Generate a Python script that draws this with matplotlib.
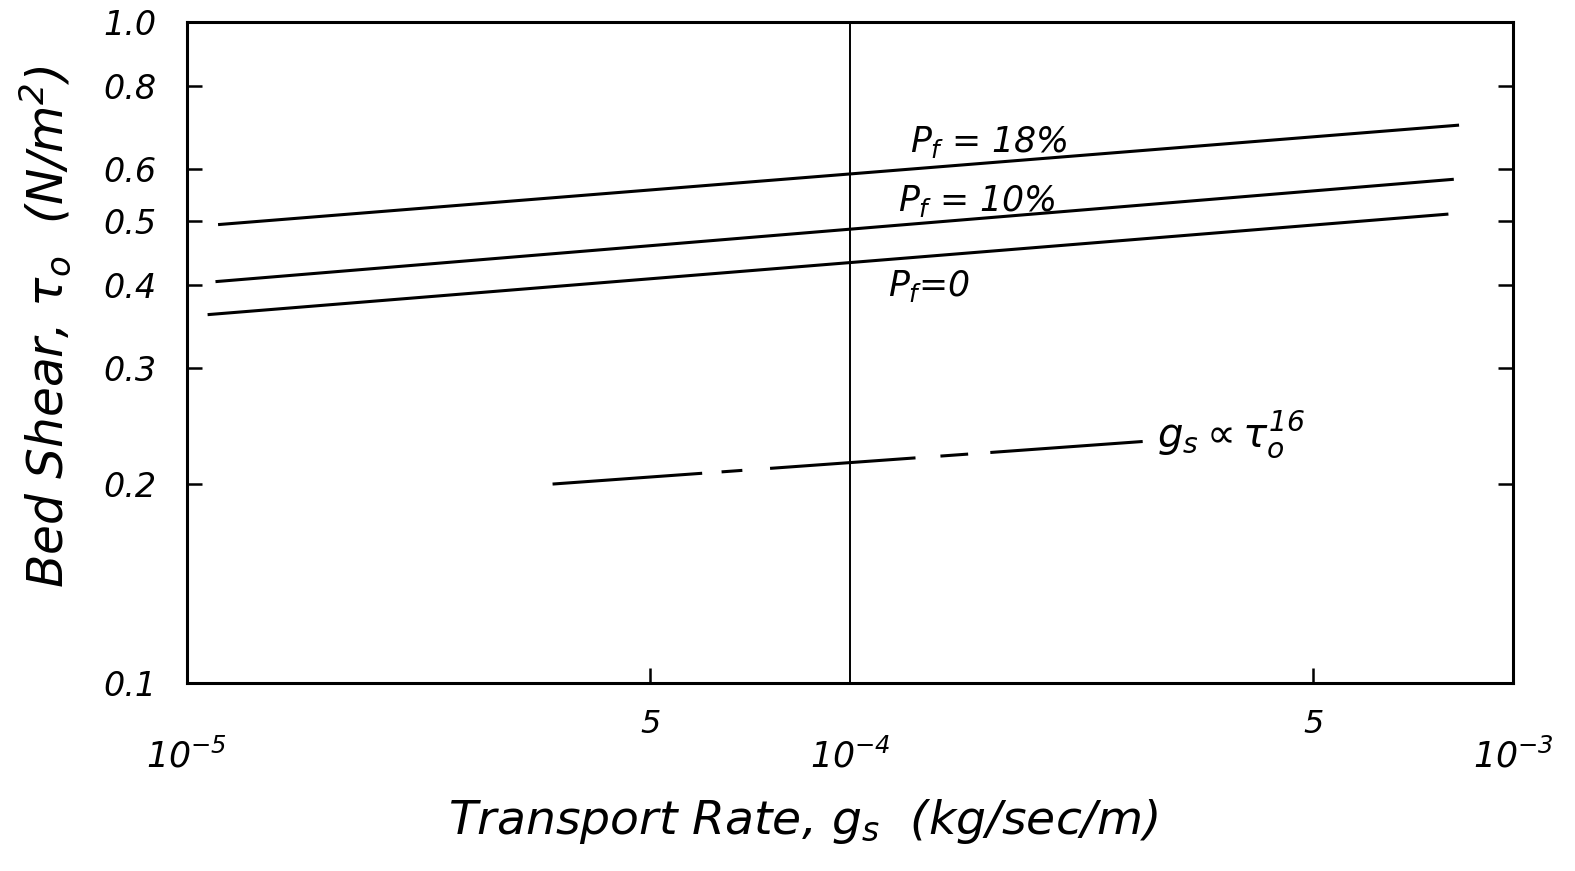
import numpy as np
import matplotlib
matplotlib.use("Agg")
import matplotlib.pyplot as plt
from matplotlib.ticker import FixedLocator, FixedFormatter, NullLocator

plt.rcParams['font.family'] = ['DejaVu Sans']
plt.rcParams['font.style'] = 'italic'
plt.rcParams['mathtext.fontset'] = 'custom'
plt.rcParams['mathtext.rm'] = 'DejaVu Sans:italic'
plt.rcParams['mathtext.it'] = 'DejaVu Sans:italic'
plt.rcParams['lines.scale_dashes'] = False

# curves: transport rate g_s (kg/sec/m) vs bed shear (N/m^2)
gs_pf18 = [1.12e-5, 8.25e-4]
tau_pf18 = [0.494, 0.698]
gs_pf10 = [1.11e-5, 8.1e-4]
tau_pf10 = [0.405, 0.578]
gs_pf0 = [1.08e-5, 7.95e-4]
tau_pf0 = [0.361, 0.512]
gs_slope = [3.56e-5, 2.77e-4]
tau_slope = [0.200, 0.232]

y_ticks = [0.1, 0.2, 0.3, 0.4, 0.5, 0.6, 0.8, 1.0]
y_labels = ['0.1', '0.2', '0.3', '0.4', '0.5', '0.6', '0.8', '1.0']
x_major = [1e-5, 1e-4, 1e-3]
x_major_labels = [r'$10^{-5}$', r'$10^{-4}$', r'$10^{-3}$']
x_minor = [5e-5, 5e-4]
x_minor_labels = ['5', '5']


def main():
    fig = plt.figure(figsize=(15.75, 8.71), dpi=100)
    ax = fig.add_axes([0.1187, 0.2158, 0.8419, 0.7589])
    ax.set_xscale('log')
    ax.set_yscale('log')
    ax.set_xlim(1e-5, 1e-3)
    ax.set_ylim(0.1, 1.0)

    lw = 2.2
    ax.plot(gs_pf18, tau_pf18, color='black', lw=lw)
    ax.plot(gs_pf10, tau_pf10, color='black', lw=lw)
    ax.plot(gs_pf0, tau_pf0, color='black', lw=lw)
    ax.plot(gs_slope, tau_slope, color='black', lw=lw,
            dashes=(108, 14, 15, 20, 105, 18, 20, 16, 110, 40))
    ax.axvline(1e-4, color='black', lw=1.4)

    ax.text(1.233e-4, 0.635, r'$P_f$ = 18%', fontsize=25, va='baseline')
    ax.text(1.18e-4, 0.518, r'$P_f$ = 10%', fontsize=25, va='baseline')
    ax.text(1.14e-4, 0.385, r'$P_f$=0', fontsize=25, va='baseline')
    ax.text(2.90e-4, 0.2276, r'$g_s \propto \tau_o^{16}$', fontsize=29, va='baseline')

    for s in ax.spines.values():
        s.set_linewidth(2.2)

    ax.yaxis.set_major_locator(FixedLocator(y_ticks))
    ax.yaxis.set_major_formatter(FixedFormatter(y_labels))
    ax.yaxis.set_minor_locator(NullLocator())
    ax.tick_params(axis='y', which='major', direction='in', length=11, width=1.8,
                   left=True, right=True, labelsize=24, pad=22)

    ax.xaxis.set_major_locator(FixedLocator(x_major))
    ax.xaxis.set_major_formatter(FixedFormatter(x_major_labels))
    ax.xaxis.set_minor_locator(FixedLocator(x_minor))
    ax.xaxis.set_minor_formatter(FixedFormatter(x_minor_labels))
    ax.tick_params(axis='x', which='major', length=0, pad=40, labelsize=25)
    ax.tick_params(axis='x', which='minor', direction='in', length=11, width=1.8,
                   pad=19, labelsize=23)

    ax.set_xlabel(r'Transport Rate, $g_s$  (kg/sec/m)', fontsize=34)
    ax.xaxis.set_label_coords(0.465, -0.172)
    ax.set_ylabel(r'Bed Shear, $\tau_o$  (N/m$^2$)', fontsize=35)
    ax.yaxis.set_label_coords(-0.085, 0.54)

    fig.savefig('out.png', dpi=100)


if __name__ == "__main__":
    main()
